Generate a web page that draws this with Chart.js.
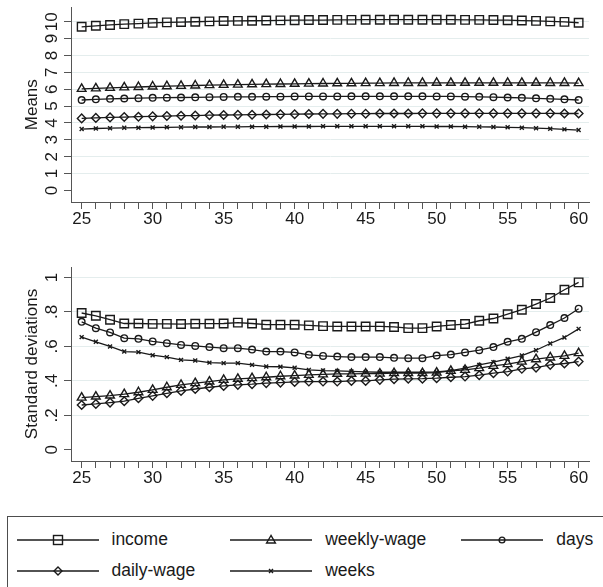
<!DOCTYPE html>
<html>
<head>
<meta charset="utf-8">
<script src="https://cdn.jsdelivr.net/npm/chart.js@4/dist/chart.umd.min.js"></script>
<style>
html,body{margin:0;padding:0;background:#fff;}
body{width:603px;height:587px;position:relative;overflow:hidden;font-family:"Liberation Sans",Arial,sans-serif;}
#meanChart{position:absolute;left:0;top:0;}
#sdChart{position:absolute;left:0;top:250px;}
.legend{position:absolute;left:7px;top:516px;width:660px;height:120px;border:1.5px solid #4d4d4d;box-sizing:border-box;}
.legend .rows{display:grid;grid-template-columns:auto auto auto;column-gap:35px;justify-content:start;padding:7px 0 0 8.5px;}
.item{display:flex;align-items:center;height:31px;}
.item svg{width:82px;height:20px;margin-right:13px;flex:none;}
.item span{font-size:17.5px;color:#1a1a1a;white-space:nowrap;}
</style>
</head>
<body>
<canvas id="meanChart" width="603" height="232"></canvas>
<canvas id="sdChart" width="603" height="241"></canvas>
<div class="legend"><div class="rows" id="legendRows"></div></div>
<script>
// Age profiles, 25 to 60
const ages = [25,26,27,28,29,30,31,32,33,34,35,36,37,38,39,40,41,42,
              43,44,45,46,47,48,49,50,51,52,53,54,55,56,57,58,59,60];

const seriesNames = ['income','weekly-wage','days','daily-wage','weeks'];

// Means by age
const incomeMean = [9.70,9.76,9.81,9.86,9.89,9.93,9.96,9.98,10.00,10.02,10.04,10.05,10.06,10.07,10.08,10.09,10.10,10.10,
                    10.11,10.11,10.12,10.12,10.12,10.12,10.12,10.12,10.12,10.11,10.11,10.10,10.09,10.07,10.05,10.02,9.99,9.94];
const weeklyWageMean = [6.02,6.05,6.08,6.11,6.13,6.16,6.18,6.20,6.22,6.24,6.26,6.27,6.29,6.30,6.31,6.32,6.33,6.34,
                        6.35,6.35,6.36,6.36,6.37,6.37,6.37,6.38,6.38,6.38,6.38,6.38,6.38,6.38,6.38,6.37,6.37,6.36];
const daysMean = [5.36,5.40,5.43,5.45,5.47,5.49,5.50,5.51,5.52,5.53,5.54,5.55,5.55,5.56,5.56,5.57,5.57,5.57,
                  5.57,5.58,5.58,5.58,5.58,5.58,5.58,5.57,5.57,5.56,5.55,5.53,5.51,5.49,5.46,5.43,5.40,5.36];
const dailyWageMean = [4.27,4.30,4.33,4.35,4.37,4.39,4.41,4.43,4.44,4.46,4.47,4.48,4.49,4.50,4.51,4.52,4.53,4.54,
                       4.54,4.55,4.55,4.56,4.56,4.56,4.57,4.57,4.57,4.57,4.57,4.57,4.57,4.57,4.57,4.57,4.56,4.56];
const weeksMean = [3.64,3.67,3.69,3.71,3.72,3.73,3.74,3.75,3.76,3.76,3.77,3.77,3.78,3.78,3.79,3.79,3.79,3.80,
                   3.80,3.80,3.80,3.80,3.80,3.80,3.80,3.79,3.79,3.78,3.77,3.76,3.74,3.72,3.69,3.66,3.62,3.58];

// Standard deviations by age
const incomeSd = [.794,.778,.755,.733,.733,.731,.731,.730,.732,.732,.733,.738,.733,.726,.726,.726,.722,.718,
                  .716,.716,.716,.716,.713,.706,.706,.716,.724,.730,.749,.762,.787,.813,.846,.881,.929,.972];
const weeklyWageSd = [.303,.309,.315,.323,.334,.348,.363,.377,.387,.396,.406,.412,.416,.421,.427,.431,.435,.438,
                      .441,.441,.442,.442,.445,.445,.445,.448,.458,.464,.474,.487,.497,.512,.526,.536,.545,.561];
const daysSd = [.743,.706,.681,.648,.644,.629,.619,.609,.603,.596,.590,.590,.582,.570,.570,.565,.551,.545,
                .541,.538,.538,.538,.534,.532,.532,.547,.553,.565,.578,.596,.627,.644,.683,.724,.765,.819];
const dailyWageSd = [.260,.266,.274,.282,.299,.313,.328,.342,.353,.363,.371,.377,.381,.387,.390,.394,.396,.396,
                     .396,.400,.400,.406,.410,.412,.413,.416,.421,.425,.433,.445,.454,.470,.477,.493,.501,.512];
const weeksSd = [.654,.627,.600,.570,.567,.549,.538,.522,.518,.506,.503,.503,.493,.483,.482,.476,.464,.460,
                 .458,.455,.452,.450,.450,.450,.450,.452,.460,.474,.493,.509,.528,.547,.578,.617,.652,.702];

// Axis ticks
const meanTicks = [0,1,2,3,4,5,6,7,8,9,10];
const meanTickLabels = ['0','1','2','3','4','5','6','7','8','9','10'];
const sdTicks = [0,.2,.4,.6,.8,1];
const sdTickLabels = ['0','.2','.4','.6','.8','1'];
const ageLabelStep = 5;

// Marker look per series
const markers = [
  {style:'rect', radius:6},
  {style:'triangle', radius:5},
  {style:'circle', radius:3.3},
  {style:'rectRot', radius:4.3},
  {style:'crossRot', radius:2.8}
];

const INK = '#1a1a1a';
const AXIS = '#555555';
const GRID = '#e4eded';
const FONT = '"Liberation Sans", Arial, sans-serif';

Chart.defaults.font.family = FONT;
Chart.defaults.font.size = 17;
Chart.defaults.color = INK;

// Y tick labels written upright along the axis (reading bottom to top)
const uprightYLabels = {
  id: 'uprightYLabels',
  afterDraw(chart, args, opts) {
    const s = chart.scales.y;
    const ctx = chart.ctx;
    ctx.save();
    ctx.font = '17px ' + FONT;
    ctx.fillStyle = INK;
    ctx.textAlign = 'center';
    ctx.textBaseline = 'middle';
    s.ticks.forEach((t, i) => {
      const y = s.getPixelForTick(i);
      ctx.save();
      ctx.translate(opts.x, y);
      ctx.rotate(-Math.PI / 2);
      ctx.fillText(opts.labels[i], 0, 0);
      ctx.restore();
    });
    ctx.restore();
  }
};

function buildDatasets(seriesValues) {
  return seriesValues.map((vals, k) => ({
    label: seriesNames[k],
    data: ages.map((a, i) => ({x: a, y: vals[i]})),
    borderColor: INK,
    borderWidth: 1.3,
    pointStyle: markers[k].style,
    pointRadius: markers[k].radius,
    pointBorderWidth: 1.4,
    pointBorderColor: INK,
    pointBackgroundColor: 'rgba(0,0,0,0)',
    tension: 0,
    fill: false
  }));
}

function makePanel(id, seriesValues, yTicks, yLabels, yMin, yMax, title, topPad) {
  return new Chart(document.getElementById(id), {
    type: 'line',
    data: {datasets: buildDatasets(seriesValues)},
    plugins: [uprightYLabels],
    options: {
      responsive: false,
      animation: false,
      layout: {padding: {left: 0, right: 14, top: topPad, bottom: 0}},
      plugins: {
        legend: {display: false},
        tooltip: {enabled: false},
        uprightYLabels: {x: 52, labels: yLabels}
      },
      scales: {
        x: {
          type: 'linear',
          min: 24.25, max: 60.73,
          afterBuildTicks: s => { s.ticks = ages.map(v => ({value: v})); },
          afterFit: s => { s.height = 30; s.paddingLeft = 0; s.paddingRight = 0; },
          ticks: {
            autoSkip: false, maxRotation: 0, minRotation: 0, padding: 0,
            callback: v => (v % ageLabelStep === 0 ? String(v) : '')
          },
          grid: {drawOnChartArea: false, drawTicks: true, tickLength: 7, tickColor: AXIS, lineWidth: 1},
          border: {display: true, color: AXIS, width: 1}
        },
        y: {
          type: 'linear',
          min: yMin, max: yMax,
          afterBuildTicks: s => { s.ticks = yTicks.map(v => ({value: v})); },
          afterFit: s => { s.width = 71; s.paddingTop = 0; s.paddingBottom = 0; },
          ticks: {display: false, autoSkip: false},
          grid: {
            drawTicks: true, tickLength: 7, tickColor: AXIS, lineWidth: 1,
            color: c => (c.tick && c.tick.value === yTicks[0] ? 'rgba(0,0,0,0)' : GRID)
          },
          border: {display: true, color: AXIS, width: 1},
          title: {display: true, text: title, color: INK, font: {size: 17, lineHeight: 1.2}, padding: {top: 22.3, bottom: 0}}
        }
      }
    }
  });
}

makePanel('meanChart', [incomeMean, weeklyWageMean, daysMean, dailyWageMean, weeksMean],
          meanTicks, meanTickLabels, -0.686, 10.85, 'Means', 7);
makePanel('sdChart', [incomeSd, weeklyWageSd, daysSd, dailyWageSd, weeksSd],
          sdTicks, sdTickLabels, -0.065, 1.061, 'Standard deviations', 17);

// Shared key below both panels
function markerSvg(style) {
  const c = 'stroke="' + INK + '" stroke-width="1.4" fill="none"';
  switch (style) {
    case 'rect': return '<rect x="36.5" y="5.5" width="9" height="9" ' + c + '/>';
    case 'triangle': return '<polygon points="41,5.5 36.6,13 45.4,13" ' + c + '/>';
    case 'circle': return '<circle cx="41" cy="10" r="2.9" ' + c + '/>';
    case 'rectRot': return '<polygon points="41,6 45,10 41,14 37,10" ' + c + '/>';
    default: return '<path d="M39,8 L43,12 M43,8 L39,12" ' + c + '/>';
  }
}
const rows = document.getElementById('legendRows');
seriesNames.forEach((name, k) => {
  const item = document.createElement('div');
  item.className = 'item';
  item.innerHTML = '<svg viewBox="0 0 82 20"><line x1="0" y1="10" x2="82" y2="10" stroke="' + INK +
    '" stroke-width="1.4"/>' + markerSvg(markers[k].style) + '</svg><span>' + name + '</span>';
  rows.appendChild(item);
});
</script>
</body>
</html>
